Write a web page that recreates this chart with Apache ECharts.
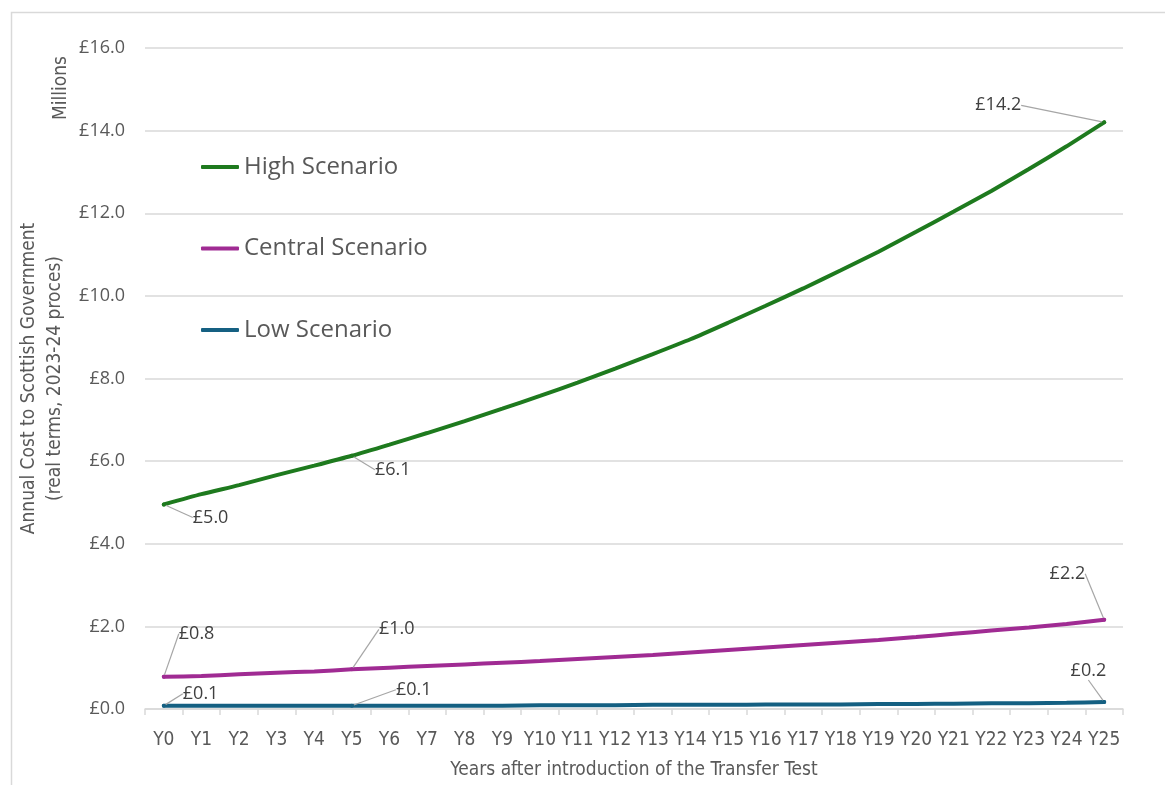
<!DOCTYPE html>
<html>
<head>
<meta charset="utf-8">
<title>Annual Cost to Scottish Government</title>
<script src="https://cdn.jsdelivr.net/npm/echarts@6/dist/echarts.min.js"></script>
<style>
  html, body { margin: 0; padding: 0; background: #ffffff; }
  #chart { width: 1165px; height: 785px; }
</style>
</head>
<body>
<div id="chart"></div>
<script>
// Years after introduction, Y0..Y25
const years = ['Y0','Y1','Y2','Y3','Y4','Y5','Y6','Y7','Y8','Y9','Y10','Y11','Y12',
  'Y13','Y14','Y15','Y16','Y17','Y18','Y19','Y20','Y21','Y22','Y23','Y24','Y25'];

// Annual cost, £ millions (real terms)
const highScenario = [4.95, 5.20, 5.42, 5.66, 5.89, 6.13, 6.40, 6.68, 6.97, 7.27, 7.58,
  7.90, 8.24, 8.59, 8.95, 9.35, 9.76, 10.18, 10.62, 11.07, 11.55, 12.04, 12.54, 13.07,
  13.62, 14.20];
const centralScenario = [0.78, 0.80, 0.84, 0.88, 0.91, 0.96, 1.00, 1.04, 1.08, 1.12,
  1.16, 1.21, 1.26, 1.31, 1.37, 1.43, 1.49, 1.55, 1.61, 1.67, 1.74, 1.82, 1.90, 1.97,
  2.06, 2.16];
const lowScenario = [0.08, 0.08, 0.08, 0.08, 0.08, 0.08, 0.08, 0.08, 0.08, 0.08, 0.09,
  0.09, 0.09, 0.10, 0.10, 0.10, 0.11, 0.11, 0.11, 0.12, 0.12, 0.13, 0.14, 0.14, 0.15,
  0.17];

const seriesNames = ['High Scenario', 'Central Scenario', 'Low Scenario'];
const yTicks = [0, 2, 4, 6, 8, 10, 12, 14, 16];

// Points that carry a value label
const labelledYears = [0, 5, 25];

const colors = ['#1E7A1E', '#A02B93', '#156082'];
const gbp = v => '£' + v.toFixed(1);

// Where each value label sits relative to its point: [dx, dy, align]
const labelOffsets = [
  { 0: [29, 13, 'left'], 5: [23, 14, 'left'], 25: [-83, -17, 'right'] },
  { 0: [15, -43, 'left'], 5: [27, -40, 'left'], 25: [-19, -46, 'right'] },
  { 0: [19, -12, 'left'], 5: [44, -16, 'left'], 25: [2, -31, 'right'] }
];

const labelFont = "'Open Sans', 'Liberation Sans', sans-serif";
const narrowFont = "'Liberation Sans Narrow', 'DejaVu Sans Condensed', 'Liberation Sans', sans-serif";

function buildData(values) {
  return values.map((v, i) => {
    if (labelledYears.indexOf(i) === -1) return { value: v, symbol: 'none' };
    return {
      value: v,
      symbol: 'circle',
      symbolSize: 4,
      label: { show: true }
    };
  });
}

function buildSeries(values, idx) {
  return {
    name: seriesNames[idx],
    type: 'line',
    data: buildData(values),
    showSymbol: true,
    showAllSymbol: true,
    symbol: 'circle',
    smooth: 0.2,
    lineStyle: { width: 4, color: colors[idx], cap: 'round' },
    itemStyle: { color: colors[idx] },
    label: {
      show: false,
      formatter: p => gbp(p.value),
      fontFamily: labelFont,
      fontSize: 18,
      color: '#404040'
    },
    labelLine: {
      show: true,
      lineStyle: { color: '#A6A6A6', width: 1.2 }
    },
    labelLayout: function (p) {
      const off = labelOffsets[idx][p.dataIndex];
      if (!off) return {};
      const cx = p.rect.x + p.rect.width / 2;
      const cy = p.rect.y + p.rect.height / 2;
      return {
        x: cx + off[0],
        y: cy + off[1],
        align: off[2],
        verticalAlign: 'middle'
      };
    },
    emphasis: { disabled: true },
    z: 3 - idx
  };
}

const chart = echarts.init(document.getElementById('chart'), null, { renderer: 'canvas' });

chart.setOption({
  animation: false,
  backgroundColor: '#ffffff',
  color: colors,
  grid: { left: 145, right: 42, top: 48, bottom: 74, containLabel: false },
  legend: {
    data: seriesNames,
    orient: 'vertical',
    left: 196,
    top: 150,
    itemGap: 57.5,
    itemWidth: 38,
    itemHeight: 4,
    icon: 'roundRect',
    textStyle: { fontFamily: labelFont, fontSize: 24, color: '#595959' }
  },
  xAxis: {
    type: 'category',
    data: years,
    boundaryGap: true,
    name: 'Years after introduction of the Transfer Test',
    nameLocation: 'middle',
    nameGap: 52,
    nameTextStyle: { fontFamily: narrowFont, fontSize: 19, color: '#595959' },
    axisLine: { lineStyle: { color: '#D9D9D9', width: 1.5 } },
    axisTick: { show: true, length: 6, lineStyle: { color: '#D9D9D9', width: 1.5 } },
    axisLabel: { fontFamily: narrowFont, fontSize: 19, color: '#595959', margin: 22, interval: 0 }
  },
  yAxis: {
    type: 'value',
    min: yTicks[0],
    max: yTicks[yTicks.length - 1],
    interval: yTicks[1] - yTicks[0],
    name: 'Annual Cost to Scottish Government\n(real terms, 2023-24 proces)',
    nameLocation: 'middle',
    nameGap: 72,
    nameTextStyle: { fontFamily: narrowFont, fontSize: 19, color: '#595959', lineHeight: 26, align: 'center' },
    axisLine: { show: false },
    axisTick: { show: false },
    splitLine: { lineStyle: { color: '#D9D9D9', width: 1.5 } },
    axisLabel: { formatter: gbp, fontFamily: labelFont, fontSize: 18, color: '#595959', margin: 20 }
  },
  graphic: [
    {
      type: 'rect',
      left: 9, top: 10,
      shape: { width: 1200, height: 800 },
      style: { fill: 'none', stroke: '#D9D9D9', lineWidth: 1.5 },
      silent: true
    },
    {
      type: 'text',
      left: 52, top: 56,
      rotation: Math.PI / 2,
      style: { text: 'Millions', fontFamily: narrowFont, fontSize: 19, fill: '#595959' }
    }
  ],
  series: [
    buildSeries(highScenario, 0),
    buildSeries(centralScenario, 1),
    buildSeries(lowScenario, 2)
  ]
});
</script>
</body>
</html>
